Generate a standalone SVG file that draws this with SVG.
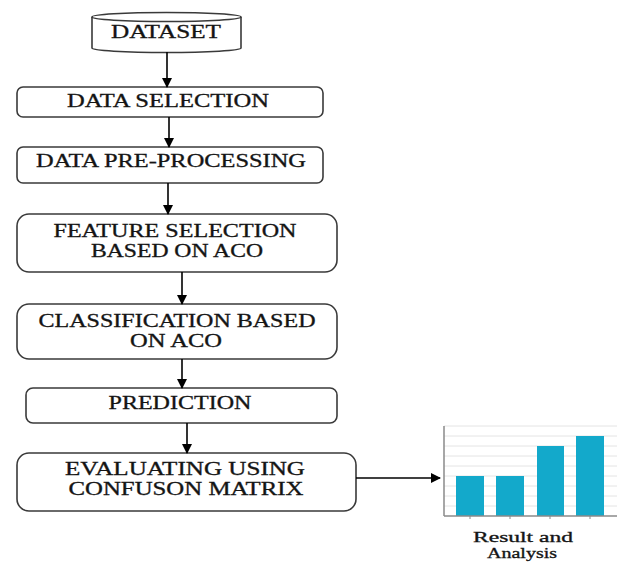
<svg xmlns="http://www.w3.org/2000/svg" width="619" height="565" viewBox="0 0 619 565">
<style>
.box{fill:#fff;stroke:#3a3a3a;stroke-width:1.6}
.t{font-family:"Liberation Serif","Times New Roman",serif;font-size:18px;fill:#141414;text-anchor:middle;stroke:#141414;stroke-width:0.3}
.r{font-family:"Liberation Serif","Times New Roman",serif;font-size:14px;fill:#141414;text-anchor:middle;stroke:#141414;stroke-width:0.3}
.c{stroke:#000;stroke-width:1.6;fill:none}
.grid{stroke:#e4e4e4;stroke-width:1}
.bar{fill:#13a9cb}
</style>
<defs>
<marker id="ah" markerWidth="10" markerHeight="10" refX="9" refY="5" orient="auto" markerUnits="userSpaceOnUse">
<path d="M0,0 L10,5 L0,10 Z" fill="#000"/>
</marker>
</defs>
<rect width="619" height="565" fill="#fff"/>
<g id="dataset">
<path class="box" d="M92,17 L92,48 A74.5,4.5 0 0 0 241,48 L241,17"/>
<ellipse class="box" cx="166.5" cy="17" rx="74.5" ry="4.5"/>
<text class="t" x="166" y="38" textLength="110" lengthAdjust="spacingAndGlyphs">DATASET</text>
</g>
<g id="data-selection">
<rect class="box" x="17" y="87" width="306" height="30" rx="6"/>
<text class="t" x="168" y="107" textLength="202" lengthAdjust="spacingAndGlyphs">DATA SELECTION</text>
</g>
<g id="data-preprocessing">
<rect class="box" x="17" y="147" width="306" height="36" rx="6"/>
<text class="t" x="171" y="167" textLength="270" lengthAdjust="spacingAndGlyphs">DATA PRE-PROCESSING</text>
</g>
<g id="feature-selection">
<rect class="box" x="17" y="214" width="320" height="58" rx="12"/>
<text class="t" x="175" y="237" textLength="243" lengthAdjust="spacingAndGlyphs">FEATURE SELECTION</text>
<text class="t" x="177" y="257" textLength="172" lengthAdjust="spacingAndGlyphs">BASED ON ACO</text>
</g>
<g id="classification">
<rect class="box" x="17" y="304" width="320" height="55" rx="12"/>
<text class="t" x="177" y="327" textLength="277" lengthAdjust="spacingAndGlyphs">CLASSIFICATION BASED</text>
<text class="t" x="176" y="347" textLength="92" lengthAdjust="spacingAndGlyphs">ON ACO</text>
</g>
<g id="prediction">
<rect class="box" x="26" y="388" width="311" height="35" rx="7"/>
<text class="t" x="180" y="409" textLength="143" lengthAdjust="spacingAndGlyphs">PREDICTION</text>
</g>
<g id="evaluating">
<rect class="box" x="17" y="453" width="339" height="58" rx="12"/>
<text class="t" x="185" y="475" textLength="240" lengthAdjust="spacingAndGlyphs">EVALUATING USING</text>
<text class="t" x="186" y="495" textLength="235" lengthAdjust="spacingAndGlyphs">CONFUSON MATRIX</text>
</g>
<g id="result-chart">
<line class="grid" x1="444" y1="426" x2="617" y2="426"/>
<line class="grid" x1="444" y1="436" x2="617" y2="436"/>
<line class="grid" x1="444" y1="446" x2="617" y2="446"/>
<line class="grid" x1="444" y1="456" x2="617" y2="456"/>
<line class="grid" x1="444" y1="466" x2="617" y2="466"/>
<line class="grid" x1="444" y1="476" x2="617" y2="476"/>
<line class="grid" x1="444" y1="486" x2="617" y2="486"/>
<line class="grid" x1="444" y1="496" x2="617" y2="496"/>
<line class="grid" x1="444" y1="506" x2="617" y2="506"/>
<rect class="bar" x="456" y="476" width="28" height="40"/>
<rect class="bar" x="496" y="476" width="28" height="40"/>
<rect class="bar" x="537" y="446" width="27" height="70"/>
<rect class="bar" x="576" y="436" width="28" height="80"/>
<line x1="444" y1="426" x2="444" y2="516" stroke="#8a8a8a" stroke-width="1.5"/>
<line x1="444" y1="516" x2="617" y2="516" stroke="#8a8a8a" stroke-width="1.5"/>
<line x1="470" y1="516" x2="470" y2="519" stroke="#8a8a8a"/>
<line x1="510" y1="516" x2="510" y2="519" stroke="#8a8a8a"/>
<line x1="550" y1="516" x2="550" y2="519" stroke="#8a8a8a"/>
<line x1="590" y1="516" x2="590" y2="519" stroke="#8a8a8a"/>
<text class="r" x="523" y="542" textLength="100" lengthAdjust="spacingAndGlyphs">Result and</text>
<text class="r" x="522" y="558" textLength="70" lengthAdjust="spacingAndGlyphs">Analysis</text>
</g>
<g id="connectors">
<line class="c" x1="167" y1="52" x2="167" y2="87" marker-end="url(#ah)"/>
<line class="c" x1="169" y1="117" x2="169" y2="147" marker-end="url(#ah)"/>
<line class="c" x1="168" y1="183" x2="168" y2="214" marker-end="url(#ah)"/>
<line class="c" x1="182" y1="272" x2="182" y2="304" marker-end="url(#ah)"/>
<line class="c" x1="182" y1="359" x2="182" y2="388" marker-end="url(#ah)"/>
<line class="c" x1="187" y1="423" x2="187" y2="453" marker-end="url(#ah)"/>
<line class="c" x1="356" y1="478" x2="440" y2="478" marker-end="url(#ah)"/>
</g>
</svg>
